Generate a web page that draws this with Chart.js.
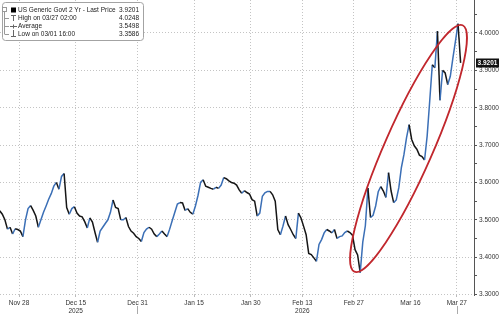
<!DOCTYPE html>
<html>
<head>
<meta charset="utf-8">
<script src="https://cdn.jsdelivr.net/npm/chart.js@4.4.0/dist/chart.umd.min.js"></script>
<style>
  html, body { margin: 0; padding: 0; background: #fff; }
  #wrap { width: 500px; height: 314px; }
</style>
</head>
<body>
<div id="wrap"><canvas id="yieldChart" width="500" height="314"></canvas></div>
<script>
// US Generic Govt 2 Yr, two readings per trading day (Nov 24 2025 - Mar 27 2026)
const prices = [
  3.524, 3.515, 3.500, 3.475, 3.480, 3.462, 3.476, 3.474, 3.470, 3.455,
  3.500, 3.530, 3.538, 3.525, 3.510, 3.480, 3.500, 3.520, 3.537, 3.555,
  3.570, 3.590, 3.600, 3.582, 3.616, 3.624, 3.533, 3.515, 3.530, 3.535,
  3.518, 3.510, 3.508, 3.495, 3.478, 3.505, 3.494, 3.466, 3.440, 3.470,
  3.480, 3.490, 3.500, 3.520, 3.553, 3.533, 3.530, 3.500, 3.500, 3.506,
  3.482, 3.470, 3.464, 3.455, 3.450, 3.442, 3.466, 3.475, 3.480, 3.475,
  3.462, 3.455, 3.462, 3.470, 3.462, 3.455, 3.475, 3.498, 3.520, 3.542,
  3.546, 3.545, 3.525, 3.530, 3.520, 3.515, 3.537, 3.565, 3.600, 3.607,
  3.590, 3.587, 3.584, 3.582, 3.587, 3.584, 3.593, 3.613, 3.610, 3.604,
  3.600, 3.598, 3.593, 3.580, 3.571, 3.578, 3.573, 3.569, 3.554, 3.550,
  3.510, 3.518, 3.563, 3.572, 3.576, 3.576, 3.567, 3.550, 3.474, 3.460,
  3.483, 3.510, 3.487, 3.474, 3.460, 3.450, 3.518, 3.505, 3.483, 3.460,
  3.410, 3.407, 3.398, 3.389, 3.434, 3.447, 3.465, 3.474, 3.470, 3.465,
  3.474, 3.450, 3.455, 3.457, 3.466, 3.470, 3.466, 3.459, 3.420, 3.406,
  3.3586, 3.440, 3.484, 3.585, 3.506, 3.512, 3.537, 3.575, 3.589, 3.577,
  3.560, 3.626, 3.577, 3.546, 3.553, 3.586, 3.640, 3.675, 3.720, 3.755,
  3.715, 3.698, 3.689, 3.673, 3.669, 3.660, 3.724, 3.818, 3.915, 3.907,
  4.005, 3.820, 3.900, 3.893, 3.862, 3.884, 3.933, 3.978, 4.0248, 3.9201
];

const tickDates = ['2025-11-28', '2025-12-15', '2025-12-31', '2026-01-15', '2026-01-30',
                   '2026-02-13', '2026-02-27', '2026-03-16', '2026-03-27'];
const tickLabels = ['Nov 28', ['Dec 15', '2025'], 'Dec 31', 'Jan 15', 'Jan 30',
                    ['Feb 13', '2026'], 'Feb 27', 'Mar 16', 'Mar 27'];
const yMajorTicks = [3.3, 3.4, 3.5, 3.6, 3.7, 3.8, 3.9, 4.0];

const legendRows = [
  { text: 'US Generic Govt 2 Yr - Last Price', value: '3.9201' },
  { text: 'High on 03/27 02:00', value: '4.0248' },
  { text: 'Average', value: '3.5498' },
  { text: 'Low on 03/01 16:00', value: '3.3586' }
];
const lastPrice = 3.9201;

// red ring around the rally, ends of its long axis in data units
const ringEnds = [{ x: 69.12, y: 3.3611 }, { x: 90.14, y: 4.0206 }];

function tradingDays(from, to) {
  const out = [];
  const d = new Date(from + 'T12:00:00Z');
  const end = new Date(to + 'T12:00:00Z');
  while (d <= end) {
    const wd = d.getUTCDay();
    if (wd !== 0 && wd !== 6) out.push(d.toISOString().slice(0, 10));
    d.setUTCDate(d.getUTCDate() + 1);
  }
  return out;
}

const days = tradingDays('2025-11-24', '2026-03-27');
const tickIdx = tickDates.map(d => days.indexOf(d));
const points = prices.map((p, k) => ({ x: Math.floor(k / 2) + (k % 2 ? 0.75 : 0.25), y: p }));

const yTicks = [];
yMajorTicks.forEach(v => { yTicks.push(v); yTicks.push(+(v + 0.05).toFixed(2)); });

const isMajor = v => Math.abs(v * 10 - Math.round(v * 10)) < 1e-6;
const FONT = '"Liberation Sans", Arial, sans-serif';

const overlay = {
  id: 'overlay',
  afterDatasetsDraw(chart) {
    const { ctx, scales: { x, y } } = chart;
    const p1 = { x: x.getPixelForValue(ringEnds[0].x), y: y.getPixelForValue(ringEnds[0].y) };
    const p2 = { x: x.getPixelForValue(ringEnds[1].x), y: y.getPixelForValue(ringEnds[1].y) };
    const half = Math.hypot(p2.x - p1.x, p2.y - p1.y) / 2;
    ctx.save();
    ctx.strokeStyle = '#c1272d';
    ctx.lineWidth = 1.8;
    ctx.beginPath();
    ctx.ellipse((p1.x + p2.x) / 2, (p1.y + p2.y) / 2, half, 24, Math.atan2(p2.y - p1.y, p2.x - p1.x), 0, Math.PI * 2);
    ctx.stroke();
    ctx.restore();
  },
  afterDraw(chart) {
    const { ctx, chartArea, scales: { x, y } } = chart;
    ctx.save();

    // last price tag on the axis
    const ly = y.getPixelForValue(lastPrice);
    ctx.fillStyle = '#111';
    ctx.fillRect(chartArea.right + 2, Math.round(ly) - 4.5, 23, 9);
    ctx.fillStyle = '#fff';
    ctx.font = 'bold 6.5px ' + FONT;
    ctx.textAlign = 'center';
    ctx.textBaseline = 'middle';
    ctx.fillText(lastPrice.toFixed(4), chartArea.right + 13.5, Math.round(ly) + 0.5);

    // year dividers under the date labels
    ctx.strokeStyle = '#aaa';
    ctx.lineWidth = 1;
    [tickIdx[2], tickIdx[8]].forEach(i => {
      const px = Math.round(x.getPixelForValue(i)) + 0.5;
      ctx.beginPath();
      ctx.moveTo(px, 306);
      ctx.lineTo(px, 314);
      ctx.stroke();
    });

    // legend box
    ctx.fillStyle = '#fff';
    ctx.strokeStyle = '#a3a3a3';
    ctx.beginPath();
    ctx.roundRect(2.5, 2.5, 141, 38, 3);
    ctx.fill();
    ctx.stroke();

    ctx.strokeStyle = '#999';
    ctx.beginPath();
    ctx.moveTo(4.5, 12); ctx.lineTo(4.5, 34);
    [18, 26, 34].forEach(ry => { ctx.moveTo(4.5, ry + 0.5); ctx.lineTo(9, ry + 0.5); });
    ctx.stroke();
    ctx.strokeRect(2.5, 7.5, 4, 4);

    ctx.fillStyle = '#000';
    ctx.fillRect(11, 7.5, 5, 5);

    ctx.strokeStyle = '#666';
    ctx.beginPath();
    ctx.moveTo(11, 15.5); ctx.lineTo(16, 15.5);
    ctx.moveTo(13.5, 15.5); ctx.lineTo(13.5, 21);
    ctx.moveTo(10, 26.5); ctx.lineTo(17, 26.5);
    ctx.moveTo(13.5, 24.5); ctx.lineTo(13.5, 28.5);
    ctx.moveTo(13.5, 30); ctx.lineTo(13.5, 36.5);
    ctx.moveTo(11, 36.5); ctx.lineTo(16, 36.5);
    ctx.stroke();

    ctx.font = '6.5px ' + FONT;
    ctx.fillStyle = '#222';
    ctx.textBaseline = 'middle';
    legendRows.forEach((row, i) => {
      const ry = 10 + i * 8;
      ctx.textAlign = 'left';
      ctx.fillText(row.text, 18, ry);
      ctx.textAlign = 'right';
      ctx.fillText(row.value, 139, ry);
    });
    ctx.restore();
  }
};

new Chart(document.getElementById('yieldChart'), {
  type: 'line',
  data: {
    datasets: [{
      data: points,
      borderColor: '#161616',
      borderWidth: 1.5,
      pointRadius: 0,
      tension: 0,
      segment: {
        borderColor: c => (c.p1.parsed.y >= c.p0.parsed.y ? '#3b6fb6' : '#161616')
      }
    }]
  },
  options: {
    responsive: false,
    animation: false,
    devicePixelRatio: 1,
    layout: { padding: 0 },
    plugins: { legend: { display: false }, tooltip: { enabled: false } },
    scales: {
      x: {
        type: 'linear',
        min: 0.3,
        max: 92.35,
        afterBuildTicks: s => { s.ticks = tickIdx.map(v => ({ value: v })); },
        afterFit: s => { s.height = 19; s.paddingLeft = 0; s.paddingRight = 0; },
        ticks: {
          autoSkip: false,
          maxRotation: 0,
          padding: 2,
          color: '#333',
          font: { family: FONT, size: 6.5, lineHeight: 1.3 },
          callback: (v, i) => tickLabels[i]
        },
        grid: { color: '#c4c4c4', lineWidth: 1, tickLength: 2, tickColor: '#bbb' },
        border: { display: false, dash: [1, 2] }
      },
      y: {
        position: 'right',
        min: 3.2987,
        max: 4.0883,
        afterBuildTicks: s => { s.ticks = yTicks.map(v => ({ value: v })); },
        afterFit: s => { s.width = 26; s.paddingTop = 0; s.paddingBottom = 0; },
        ticks: {
          padding: 2,
          color: '#333',
          font: { family: FONT, size: 6.5 },
          callback: v => (isMajor(v) ? v.toFixed(4) : '')
        },
        grid: {
          color: c => (isMajor(c.tick.value) ? '#c4c4c4' : 'rgba(0,0,0,0)'),
          lineWidth: 1,
          tickLength: 3,
          tickColor: '#555'
        },
        border: { display: true, color: '#555', width: 1, dash: [1, 2] }
      }
    }
  },
  plugins: [overlay]
});
</script>
</body>
</html>
